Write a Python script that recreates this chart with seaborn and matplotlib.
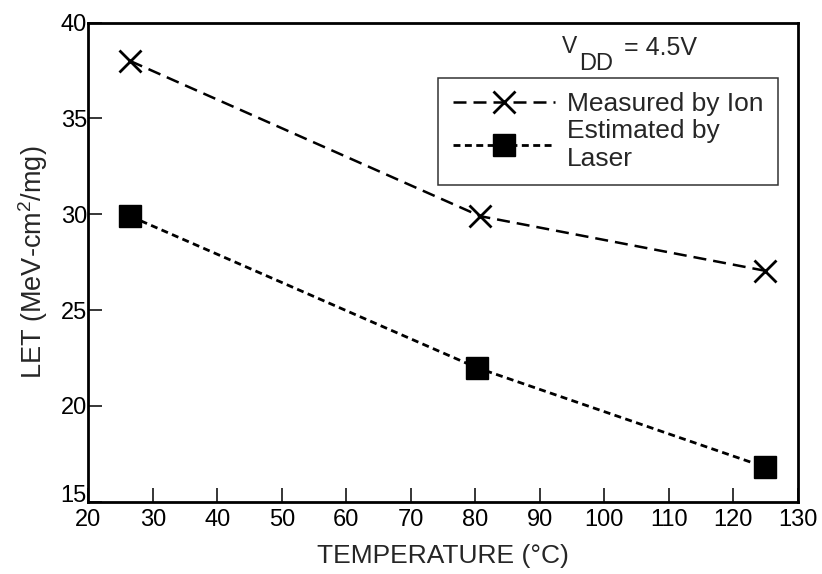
import matplotlib
matplotlib.use("Agg")
import matplotlib.pyplot as plt
import seaborn as sns
import pandas as pd

# Data
temp_ion = [26.5, 80.8, 125]
let_ion = [38.0, 29.9, 27.05]
temp_laser = [26.5, 80.2, 125]
let_laser = [29.9, 22.0, 16.8]
xticks = [20, 30, 40, 50, 60, 70, 80, 90, 100, 110, 120, 130]
yticks = [15, 20, 25, 30, 35, 40]
label_ion = "Measured by Ion"
label_laser = "Estimated by\nLaser"

sns.set_style("white")
plt.rcParams['font.family'] = ['Liberation Sans', 'DejaVu Sans']
plt.rcParams['mathtext.fontset'] = 'custom'
plt.rcParams['mathtext.rm'] = 'Liberation Sans'
plt.rcParams['mathtext.it'] = 'Liberation Sans'
plt.rcParams['mathtext.bf'] = 'Liberation Sans:bold'

W, H = 822, 574
fig = plt.figure(figsize=(W / 100, H / 100), dpi=100)
ax = fig.add_axes([88.3 / W, 1 - 501.7 / H, (797.7 - 88.3) / W, (501.7 - 22.7) / H])

df_ion = pd.DataFrame({"T": temp_ion, "LET": let_ion})
df_laser = pd.DataFrame({"T": temp_laser, "LET": let_laser})

sns.lineplot(data=df_ion, x="T", y="LET", ax=ax, color="black",
             linestyle=(0, (5.2, 2.8)), linewidth=1.8, marker="x",
             markersize=16, markeredgewidth=2.0, markeredgecolor="black",
             label=label_ion)
sns.lineplot(data=df_laser, x="T", y="LET", ax=ax, color="black",
             linestyle=(0, (2.5, 1.6)), linewidth=2.0, marker="s",
             markersize=15.5, markeredgewidth=1.0, markeredgecolor="black",
             markerfacecolor="black", label=label_laser)

ax.set_xlim(20, 130)
ax.set_ylim(15, 40)
ax.set_xticks(xticks)
ax.set_yticks(yticks)
ax.tick_params(axis='both', direction='in', length=10, width=1.1,
               labelsize=17, colors='black', left=True, bottom=True)
ax.tick_params(axis='y', pad=1)
ax.tick_params(axis='x', pad=5.5)

ylabels = ax.get_yticklabels()
ylabels[0].set_va('baseline')

for s in ax.spines.values():
    s.set_visible(True)
    s.set_color('black')
    s.set_linewidth(2.0)

ax.set_xlabel("TEMPERATURE (\u00b0C)", fontsize=19, labelpad=9)
ax.set_ylabel("LET (MeV-cm$^2$/mg)", fontsize=19.5, labelpad=8)

# V_DD annotation (figure pixels measured from the bottom)
ax.annotate("V", xy=(562, H - 53.3), xycoords='figure pixels', fontsize=16.5,
            ha='left', va='baseline')
ax.annotate("DD", xy=(579, H - 70), xycoords='figure pixels', fontsize=17,
            ha='left', va='baseline')
ax.annotate("= 4.5V", xy=(624, H - 55), xycoords='figure pixels', fontsize=18,
            ha='left', va='baseline')

leg = ax.legend(loc='upper left', bbox_to_anchor=(0.493, 0.8846),
                borderaxespad=0, frameon=True, fancybox=False, fontsize=19,
                handlelength=3.9, handletextpad=0.45, labelspacing=0.1,
                borderpad=0.55, numpoints=1)
leg.get_frame().set_edgecolor('black')
leg.get_frame().set_linewidth(1.1)

fig.savefig("out.png", dpi=100)
